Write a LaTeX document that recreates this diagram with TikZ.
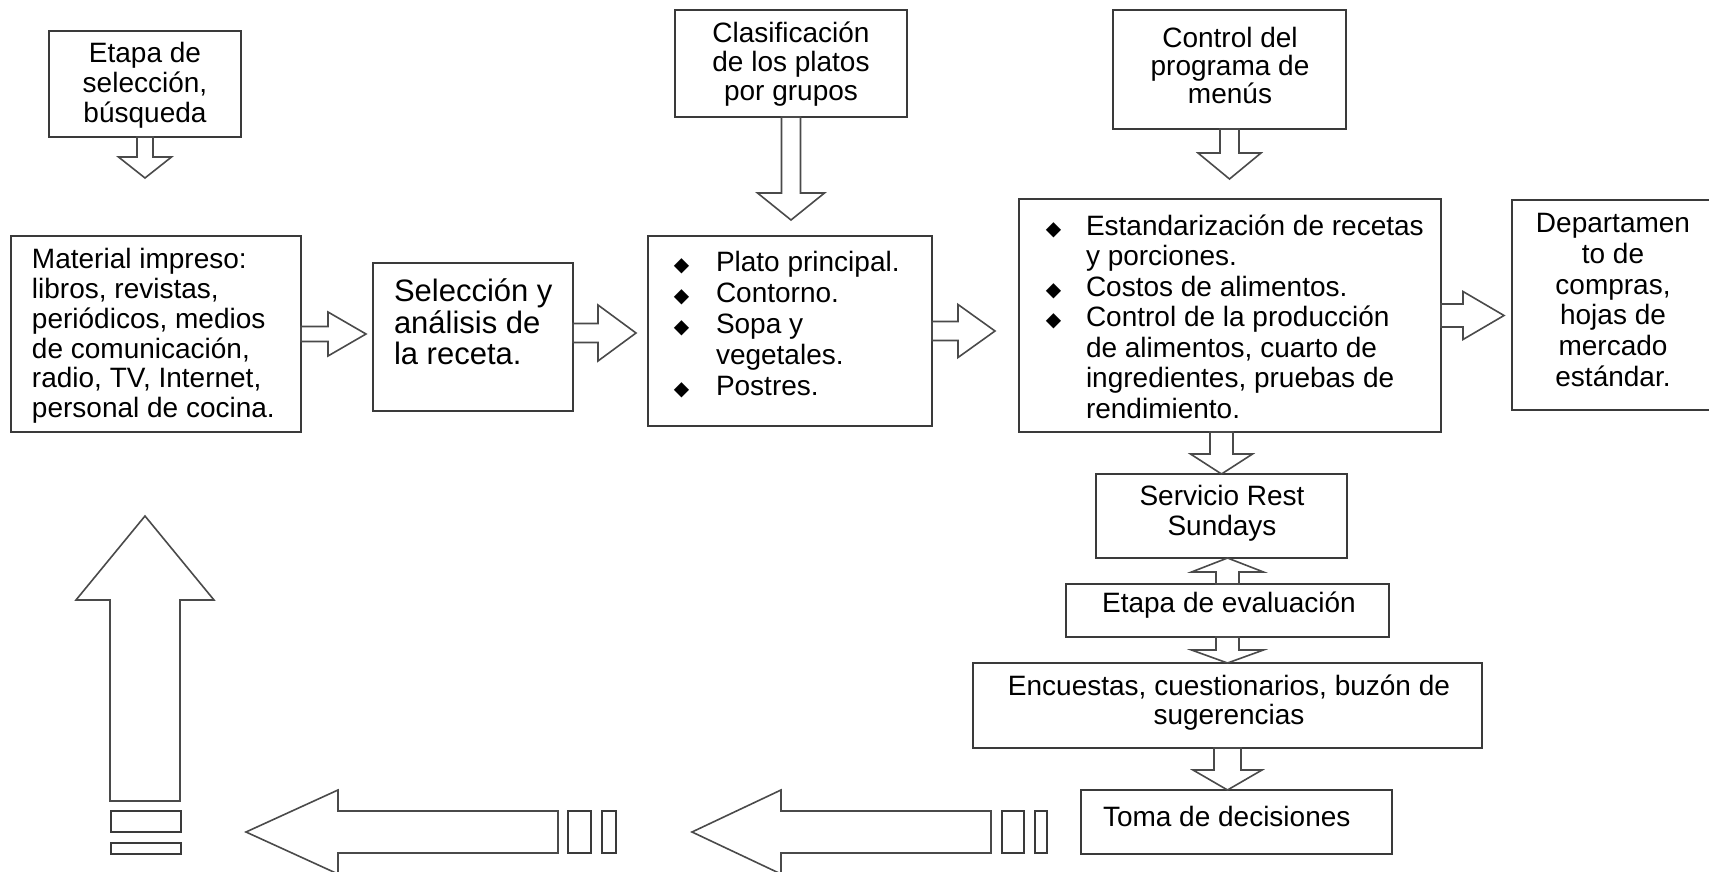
\documentclass[tikz,border=0pt]{standalone}
\usepackage{fontspec}
\setmainfont{Liberation Sans}
\newfontfamily\symfont{DejaVu Sans}
\usetikzlibrary{calc}

\definecolor{boxline}{HTML}{3A3A3A}
\definecolor{arrline}{HTML}{4A4A4A}

% text sizes
\newcommand\fsz[1]{\fontsize{14pt}{#1}\selectfont}
\newcommand\dmd{{\symfont\fontsize{10pt}{10pt}\selectfont\char"25C6}}
\newcommand\bitem[2][20.5pt]{\makebox[#1][l]{\hspace*{-0.6pt}\dmd}#2}

% rectangle node given by its corners (in px units)
\newcommand\mkbox[5]{%
  \node[box, minimum width={(#4-#2)*0.5pt}, minimum height={(#5-#3)*0.5pt}]
    (#1) at ({(#2+#4)/2},{(#3+#5)/2}) {};}

% block arrow from #1 to #2: shaft half width #3, head half width #4, head length #5
\newcommand\blockarrow[5]{%
  \coordinate (hb) at ($(#2)!#5!(#1)$);
  \draw[blk] ($(#1)!#3!90:(#2)$) -- ($(hb)!#3!90:(#2)$) -- ($(hb)!#4!90:(#2)$)
    -- (#2) -- ($(hb)!#4!-90:(#2)$) -- ($(hb)!#3!-90:(#2)$)
    -- ($(#1)!#3!-90:(#2)$) -- cycle;}

\tikzset{
  box/.style={draw=boxline, line width=1pt, fill=white, inner sep=0pt, outer sep=0pt},
  txt/.style={inner sep=0pt, outer sep=0pt, align=center, text=black},
  blk/.style={draw=arrline, line width=0.8pt, fill=white, line join=miter},
  bar/.style={draw=boxline, line width=0.9pt, fill=white},
}

\begin{document}
\begin{tikzpicture}[x=0.5pt, y=-0.5pt]
\useasboundingbox (0,0) rectangle (1709,872);

% boxes
\mkbox{etapa}{49}{31}{241}{137}
\mkbox{mat}{11}{236}{301}{432}
\mkbox{sel}{373}{263}{573}{411}
\mkbox{clas}{675}{10}{907}{117}
\mkbox{plato}{648}{236}{932}{426}
\mkbox{ctrl}{1113}{10}{1346}{129}
\mkbox{est}{1019}{199}{1441}{432}
\mkbox{dep}{1512}{200}{1714}{410}
\mkbox{serv}{1096}{474}{1347}{558}
\mkbox{eval}{1066}{584}{1389}{637}
\mkbox{enc}{973}{663}{1482}{748}
\mkbox{toma}{1081}{790}{1392}{854}

% texts
\node[txt, font=\fsz{15pt}] (etapaT) at (145,85) {Etapa de\\selección,\\búsqueda};
\node[txt, font=\fsz{14.9pt}, align=left, anchor=west] (matT) at (32,336)
  {Material impreso:\\libros, revistas,\\periódicos, medios\\de comunicación,\\radio, TV, Internet,\\personal de cocina.};
\node[txt, font=\fontsize{15.5pt}{15.85pt}\selectfont, align=left, anchor=west] (selT) at (394,322)
  {Selección y\\análisis de\\la receta.};
\node[txt, font=\fsz{14.5pt}] (clasT) at (791,64) {Clasificación\\de los platos\\por grupos};
\node[txt, font=\fsz{15.5pt}, align=left, anchor=west] (platoT) at (675,325)
  {\bitem{Plato principal.}\\\bitem{Contorno.}\\\bitem{Sopa y}\\\hspace*{20.5pt}vegetales.\\\bitem{Postres.}};
\node[txt, font=\fsz{14pt}] (ctrlT) at (1230,65) {Control del\\programa de\\menús};
\node[txt, font=\fsz{15.25pt}, align=left, anchor=west] (estT) at (1047,316.5)
  {\bitem[19.5pt]{Estandarización de recetas}\\\hspace*{19.5pt}y porciones.\\\bitem[19.5pt]{Costos de alimentos.}\\\bitem[19.5pt]{Control de la producción}\\\hspace*{19.5pt}de alimentos, cuarto de\\\hspace*{19.5pt}ingredientes, pruebas de\\\hspace*{19.5pt}rendimiento.};
\node[txt, font=\fsz{15.4pt}] (depT) at (1613,300)
  {Departamen\\to de\\compras,\\hojas de\\mercado\\estándar.};
\node[txt, font=\fsz{15pt}] (servT) at (1222,513) {Servicio Rest\\Sundays};
\node[txt, font=\fsz{15pt}] (evalT) at (1229,605) {Etapa de evaluación};
\node[txt, font=\fsz{14.5pt}] (encT) at (1229,702.5) {Encuestas, cuestionarios, buzón de\\sugerencias};
\node[txt, font=\fsz{15pt}, anchor=west] (tomaT) at (1103,816) {Toma de decisiones};

% connectors between boxes
\coordinate (a1e) at ($(etapa.south |- mat.north)+(0,-58)$);
\blockarrow{etapa.south}{a1e}{4pt}{13.25pt}{10.5pt}
\coordinate (a2e) at ($(mat.east -| sel.west)+(-7,0)$);
\blockarrow{mat.east}{a2e}{3.75pt}{11pt}{19pt}
\coordinate (a3s) at ($(sel.east)+(0,-4)$);
\coordinate (a3e) at ($(a3s -| plato.west)+(-12,0)$);
\blockarrow{a3s}{a3e}{4.75pt}{14pt}{19pt}
\coordinate (a4e) at ($(clas.south |- plato.north)+(0,-16)$);
\blockarrow{clas.south}{a4e}{4.75pt}{16.75pt}{13.5pt}
\coordinate (a5e) at ($(plato.east -| est.west)+(-24,0)$);
\blockarrow{plato.east}{a5e}{4.75pt}{13.25pt}{18.5pt}
\coordinate (a6e) at ($(est.east -| dep.west)+(-8,0)$);
\blockarrow{est.east}{a6e}{5.75pt}{12pt}{20.5pt}
\coordinate (a7e) at ($(ctrl.south |- est.north)+(0,-20)$);
\blockarrow{ctrl.south}{a7e}{4.75pt}{15.75pt}{13pt}
\coordinate (a8s) at (est.south -| serv.north);
\blockarrow{a8s}{serv.north}{5.75pt}{15.5pt}{10pt}
\coordinate (a9e) at (eval.north |- serv.south);
\blockarrow{eval.north}{a9e}{5.75pt}{18pt}{7pt}
\blockarrow{eval.south}{enc.north}{5.75pt}{18pt}{6.5pt}
\coordinate (a11e) at (enc.south |- toma.north);
\blockarrow{enc.south}{a11e}{6.75pt}{17.25pt}{10pt}

% return path along the bottom and up the left side
\coordinate (b1s) at (145,801);  \coordinate (b1e) at (145,516);
\coordinate (b2s) at (558,832);  \coordinate (b2e) at (246,832);
\coordinate (b3s) at (991,832);  \coordinate (b3e) at (692,832);
\blockarrow{b1s}{b1e}{17.5pt}{34.5pt}{42pt}
\blockarrow{b2s}{b2e}{10.5pt}{21pt}{46pt}
\blockarrow{b3s}{b3e}{10.5pt}{21pt}{44.5pt}

% small bars at the arrow tails
\draw[bar] (111,811) rectangle (181,832);
\draw[bar] (111,843) rectangle (181,854);
\draw[bar] (568,811) rectangle (591,853);
\draw[bar] (602,811) rectangle (616,853);
\draw[bar] (1002,811) rectangle (1024,853);
\draw[bar] (1035,811) rectangle (1047,853);
\end{tikzpicture}
\end{document}
